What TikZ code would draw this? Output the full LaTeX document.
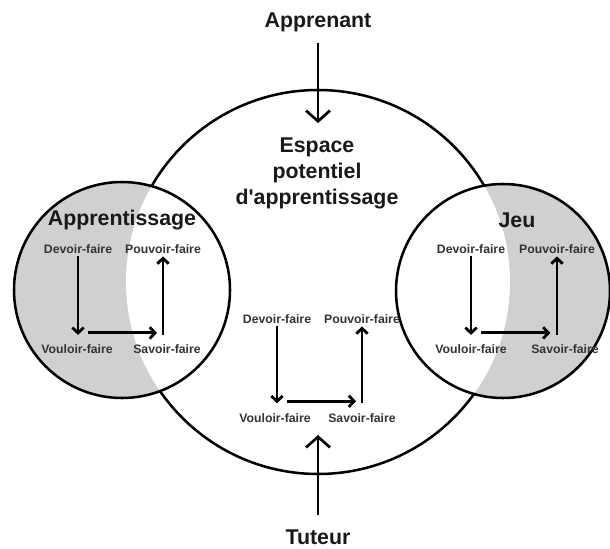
\documentclass[tikz,border=0pt]{standalone}
\usepackage{fontspec}
\setmainfont{Liberation Sans}
\usetikzlibrary{arrows.meta}
\definecolor{grisZone}{RGB}{208,208,208}

\begin{document}
\begin{tikzpicture}[x=0.75pt,y=0.75pt,yscale=-1,xscale=1,
	titre/.style={font=\fontsize{16}{19.5}\selectfont\bfseries, text=black!90, inner sep=0.75pt, align=center},
	petit/.style={font=\fontsize{9.2}{11}\selectfont\bfseries, text=black!80, inner sep=2pt},
	fleche/.style={line width=2.1pt, -{Straight Barb[length=4pt,width=8.5pt]}},
	grandefleche/.style={line width=2pt, -{Straight Barb[length=8pt,width=18pt]}}]
	\path [use as bounding box] (0,0) rectangle (610,549);
	
	%Shape: Circle [espace potentiel]
	\draw [line width=1.9pt] (318,282) circle (192);
	%Shape: Circle fills [apprentissage, jeu]
	\fill [grisZone] (122,290) circle (108);
	\fill [grisZone] (503,291) circle (107);
	\begin{scope}
		\clip (318,282) circle (192);
		\fill [white] (122,290) circle (108);
		\fill [white] (503,291) circle (107);
	\end{scope}
	\draw [line width=1.9pt] (122,290) circle (108);
	\draw [line width=1.9pt] (503,291) circle (107);
	
	% Text Node
	\node [titre] (apprenant) at (318,22) {Apprenant};
	% Text Node
	\node [titre] (tuteur) at (318,537) {Tuteur};
	% Text Node
	\node [titre] (espace) at (317,173) {Espace\\potentiel\\d\textquotesingle apprentissage};
	% Text Node
	\node [titre] (apprentissage) at (122,220) {Apprentissage};
	% Text Node
	\node [titre] (jeu) at (517,220) {Jeu};
	
	%Straight Lines [entrees]
	\coordinate (entreeHaut) at (318,123);
	\coordinate (entreeBas) at (318,435);
	\draw [grandefleche, shorten <=8pt] (apprenant) -- (entreeHaut);
	\draw [grandefleche, shorten <=10pt] (tuteur) -- (entreeBas);
	
	% Bloc apprentissage
	\node [petit] (devoirA) at (78,249) {Devoir-faire};
	\node [petit] (pouvoirA) at (163,249) {Pouvoir-faire};
	\node [petit] (vouloirA) at (77,349) {Vouloir-faire};
	\node [petit] (savoirA) at (167,349) {Savoir-faire};
	\draw [fleche] (devoirA.south) -- ([yshift=-5pt]devoirA.south |- vouloirA.north);
	\draw [fleche] ([xshift=7.5pt,yshift=-6.5pt]devoirA.south |- vouloirA.north) -- ([xshift=-4.5pt,yshift=-6.5pt]pouvoirA.south |- savoirA.north);
	\draw [fleche] ([yshift=-5pt]pouvoirA.south |- savoirA.north) -- (pouvoirA.south);
	
	% Bloc espace potentiel
	\node [petit] (devoirC) at (277,319) {Devoir-faire};
	\node [petit] (pouvoirC) at (362,319) {Pouvoir-faire};
	\node [petit] (vouloirC) at (275,418) {Vouloir-faire};
	\node [petit] (savoirC) at (362,418) {Savoir-faire};
	\draw [fleche] (devoirC.south) -- ([yshift=-5.5pt]devoirC.south |- vouloirC.north);
	\draw [fleche] ([xshift=7.5pt,yshift=-7pt]devoirC.south |- vouloirC.north) -- ([xshift=-4.5pt,yshift=-7pt]pouvoirC.south |- savoirC.north);
	\draw [fleche] ([yshift=-5.5pt]pouvoirC.south |- savoirC.north) -- (pouvoirC.south);
	
	% Bloc jeu
	\node [petit] (devoirB) at (471,249) {Devoir-faire};
	\node [petit] (pouvoirB) at (557,249) {Pouvoir-faire};
	\node [petit] (vouloirB) at (471,349) {Vouloir-faire};
	\node [petit] (savoirB) at (565,349) {Savoir-faire};
	\draw [fleche] (devoirB.south) -- ([yshift=-5pt]devoirB.south |- vouloirB.north);
	\draw [fleche] ([xshift=7.5pt,yshift=-6.5pt]devoirB.south |- vouloirB.north) -- ([xshift=-5pt,yshift=-6.5pt]pouvoirB.south |- savoirB.north);
	\draw [fleche] ([yshift=-5pt]pouvoirB.south |- savoirB.north) -- (pouvoirB.south);
	
\end{tikzpicture}
\end{document}
